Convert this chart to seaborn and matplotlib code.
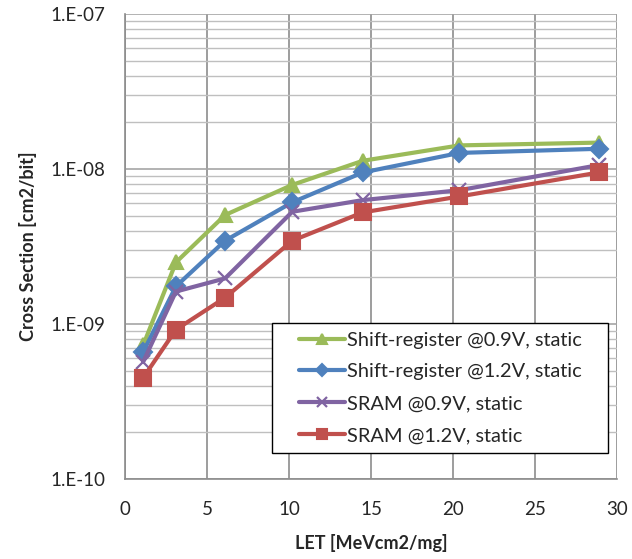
import matplotlib
matplotlib.use("Agg")
import matplotlib.pyplot as plt
import matplotlib.ticker as mticker
from matplotlib.lines import Line2D
from matplotlib.legend_handler import HandlerLine2D
import numpy as np
import pandas as pd
import seaborn as sns

# ---- data ----
let_values = [1.1, 3.1, 6.1, 10.2, 14.5, 20.4, 28.9]
sr_09 = [7.3e-10, 2.5e-9, 5.05e-9, 7.9e-9, 1.13e-8, 1.42e-8, 1.48e-8]
sr_12 = [6.6e-10, 1.75e-9, 3.45e-9, 6.1e-9, 9.5e-9, 1.27e-8, 1.35e-8]
sram_09 = [5.7e-10, 1.62e-9, 1.97e-9, 5.3e-9, 6.3e-9, 7.3e-9, 1.06e-8]
sram_12 = [4.5e-10, 9.2e-10, 1.48e-9, 3.45e-9, 5.25e-9, 6.65e-9, 9.5e-9]
series_names = ["Shift-register @0.9V, static", "Shift-register @1.2V, static",
                "SRAM @0.9V, static", "SRAM @1.2V, static"]
x_ticks = [0, 5, 10, 15, 20, 25, 30]
y_ticks = [1e-10, 1e-9, 1e-8, 1e-7]
y_tick_labels = ["1.E-10", "1.E-09", "1.E-08", "1.E-07"]

colors = {series_names[0]: "#9BBB59", series_names[1]: "#4F81BD",
          series_names[2]: "#8064A2", series_names[3]: "#C0504D"}
markers = {series_names[0]: "^", series_names[1]: "D",
           series_names[2]: "x", series_names[3]: "s"}
msizes = {series_names[0]: 10, series_names[1]: 9,
          series_names[2]: 10, series_names[3]: 11}

df = pd.DataFrame({
    "LET": let_values * 4,
    "CS": sr_09 + sr_12 + sram_09 + sram_12,
    "series": sum([[n] * len(let_values) for n in series_names], []),
})


class RightHandler(HandlerLine2D):
    """Legend line drawn as a short segment at the right end of the handle box."""
    def get_xdata(self, legend, xdescent, ydescent, width, height, fontsize):
        seg = 2.3 * fontsize
        x1 = -xdescent + width
        x0 = x1 - seg
        return np.array([x0, x1]), np.array([(x0 + x1) / 2.0])


sns.set_style("white")
plt.rcParams["font.family"] = ["Lato", "DejaVu Sans"]

fig = plt.figure(figsize=(6.32, 5.59), dpi=100)
ax = fig.add_axes([0.198, 0.143, 0.778, 0.832])

for name in series_names:
    sub = df[df["series"] == name]
    sns.lineplot(data=sub, x="LET", y="CS", ax=ax, color=colors[name],
                 marker=markers[name], markersize=msizes[name],
                 markeredgewidth=1.5 if markers[name] != "x" else 1.6,
                 markeredgecolor=colors[name], linewidth=3.0,
                 label=name, zorder=3)

ax.set_yscale("log")
ax.set_xlim(0, 30)
ax.set_ylim(1e-10, 1e-7)
ax.set_xticks(x_ticks)
ax.set_xticklabels([str(t) for t in x_ticks], fontsize=13.5)
ax.set_yticks(y_ticks)
ax.set_yticklabels(y_tick_labels, fontsize=13.5)
ax.yaxis.set_minor_locator(mticker.LogLocator(base=10, subs=np.arange(2, 10)))
ax.yaxis.set_minor_formatter(mticker.NullFormatter())

ax.grid(True, which="major", axis="x", color="#8C8C8C", linewidth=1.2)
ax.grid(True, which="major", axis="y", color="#A6A6A6", linewidth=1.2)
ax.grid(True, which="minor", axis="y", color="#BFBFBF", linewidth=1.0)
ax.set_axisbelow(True)

for s in ["top", "right"]:
    ax.spines[s].set_visible(False)
for s in ["left", "bottom"]:
    ax.spines[s].set_color("#8C8C8C")
    ax.spines[s].set_linewidth(1.2)

ax.tick_params(axis="both", which="major", direction="out", length=5,
               color="#8C8C8C", width=1.2)
ax.tick_params(axis="x", which="major", pad=11)
ax.tick_params(axis="y", which="major", pad=9)
ax.tick_params(axis="y", which="minor", length=0)

ax.set_xlabel("LET [MeVcm2/mg]", fontsize=13, fontweight="bold", labelpad=11)
ax.set_ylabel("Cross Section [cm2/bit]", fontsize=13, fontweight="bold", labelpad=10)

leg = ax.legend(loc="lower left", bbox_to_anchor=(0.299, 0.056, 0.683, 0.2),
                mode="expand", fontsize=14.4,
                frameon=True, fancybox=False, edgecolor="black", framealpha=1,
                handlelength=3.2, handletextpad=0.1, borderpad=0.45,
                labelspacing=0.74, borderaxespad=0, markerscale=0.7,
                handler_map={Line2D: RightHandler()})
leg.get_frame().set_linewidth(1.0)

fig.savefig("out.png", dpi=100)
